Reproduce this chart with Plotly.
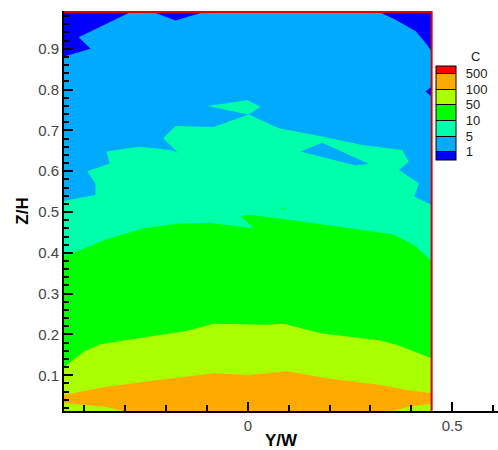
import plotly.graph_objects as go

# ---------------- data ----------------
# contour levels of C and their band colours (band k lies between levels[k-1] and levels[k])
levels = [1, 5, 10, 50, 100, 500]
level_labels = ["1", "5", "10", "50", "100", "500"]
band_colors = ["#0000FF", "#00AAFF", "#00FFAA", "#00FF00", "#AAFF00", "#FFAA00", "#FF0000"]

# measured domain (Y/W, Z/H)
y_lo, y_hi = -0.45, 0.45
z_lo, z_hi = 0.0125, 0.99

# C = 1 isolines (regions with C < 1)
iso1_tl_y = [-0.45, -0.45, -0.385, -0.414, -0.287]
iso1_tl_z = [0.99, 0.881, 0.900, 0.928, 0.99]
iso1_tc_y = [-0.232, -0.177, -0.108]
iso1_tc_z = [0.99, 0.969, 0.99]
iso1_tr_y = [0.321, 0.362, 0.411, 0.439, 0.45, 0.45]
iso1_tr_z = [0.99, 0.971, 0.943, 0.910, 0.894, 0.99]
iso1_rs_y = [0.45, 0.435, 0.45]
iso1_rs_z = [0.807, 0.795, 0.783]

# C = 5 isoline (top of the 5-10 band), left to right
iso5_y = [-0.45, -0.373, -0.373, -0.393, -0.338, -0.346, -0.267, -0.189, -0.171,
          -0.207, -0.177, -0.083, 0.002, 0.076, 0.182, 0.280, 0.378, 0.394,
          0.370, 0.419, 0.407, 0.45]
iso5_z = [0.527, 0.542, 0.570, 0.600, 0.619, 0.648, 0.660, 0.652, 0.645,
          0.681, 0.711, 0.708, 0.739, 0.705, 0.685, 0.664, 0.652, 0.623,
          0.603, 0.570, 0.538, 0.517]
# island with C > 5 and island with C < 5
iso5_isl_y = [-0.099, -0.001, 0.031, 0.002]
iso5_isl_z = [0.760, 0.774, 0.758, 0.739]
iso5_hole_y = [0.129, 0.182, 0.296, 0.264]
iso5_hole_z = [0.648, 0.670, 0.618, 0.614]

# C = 10 isoline (top of the 10-50 band)
iso10_y = [-0.45, -0.41, -0.344, -0.254, -0.173, -0.091, 0.015, -0.018, 0.007,
           0.064, 0.194, 0.357, 0.407, 0.45]
iso10_z = [0.392, 0.407, 0.434, 0.460, 0.471, 0.473, 0.460, 0.490, 0.493,
           0.486, 0.468, 0.445, 0.419, 0.380]
iso10_dot_y = [0.082, 0.092, 0.088]
iso10_dot_z = [0.509, 0.511, 0.505]

# C = 50 isoline (top of the 50-100 band)
iso50_y = [-0.45, -0.426, -0.401, -0.361, -0.214, -0.148, -0.083, 0.047, 0.088,
           0.178, 0.325, 0.366, 0.407, 0.45]
iso50_z = [0.120, 0.138, 0.158, 0.176, 0.199, 0.209, 0.226, 0.224, 0.226,
           0.203, 0.185, 0.174, 0.158, 0.142]

# C = 100 isolines (top and bottom of the 100-500 band)
iso100_top_y = [-0.45, -0.352, -0.214, -0.083, -0.001, 0.096, 0.194, 0.325, 0.390, 0.45]
iso100_top_z = [0.052, 0.071, 0.089, 0.105, 0.101, 0.110, 0.093, 0.076, 0.064, 0.056]
iso100_bot_y = [0.45, 0.390, 0.357, -0.303, -0.352, -0.45]
iso100_bot_z = [0.030, 0.022, 0.0125, 0.0125, 0.023, 0.032]

# ---------------- figure ----------------
FONT = "Liberation Sans, Arial, Helvetica, sans-serif"
fig = go.Figure()


def band(xs, zs, k):
    fig.add_trace(go.Scatter(
        x=xs, y=zs, mode="lines", fill="toself", fillcolor=band_colors[k],
        line=dict(width=0, color=band_colors[k]), hoverinfo="skip", showlegend=False))


# 1-5 everywhere first
band([y_lo, y_hi, y_hi, y_lo, y_lo], [z_lo, z_lo, z_hi, z_hi, z_lo], 1)
# < 1
band(iso1_tl_y, iso1_tl_z, 0)
band(iso1_tc_y, iso1_tc_z, 0)
band(iso1_tr_y, iso1_tr_z, 0)
band(iso1_rs_y, iso1_rs_z, 0)
# 5-10 below the C=5 line
band(iso5_y + [y_hi, y_lo], iso5_z + [z_lo, z_lo], 2)
band(iso5_isl_y, iso5_isl_z, 2)
band(iso5_hole_y, iso5_hole_z, 1)
# 10-50
band(iso10_y + [y_hi, y_lo], iso10_z + [z_lo, z_lo], 3)
band(iso10_dot_y, iso10_dot_z, 3)
# 50-100
band(iso50_y + [y_hi, y_lo], iso50_z + [z_lo, z_lo], 4)
# 100-500
band(iso100_top_y + iso100_bot_y, iso100_top_z + iso100_bot_z, 5)

# red border of the measured domain (top and right)
fig.add_trace(go.Scatter(
    x=[y_lo, y_hi, y_hi], y=[z_hi, z_hi, z_lo], mode="lines",
    line=dict(color="#E00000", width=2), hoverinfo="skip", showlegend=False))

# colour key
n = len(band_colors)
cmin, cmax = 0.5, len(levels) + 0.5
span = cmax - cmin
cs = []
edges = [cmin] + [i + 1 for i in range(len(levels))] + [cmax]
for k in range(n):
    a = (edges[k] - cmin) / span
    b = (edges[k + 1] - cmin) / span
    cs.append([a, band_colors[k]])
    cs.append([b, band_colors[k]])

fig.add_trace(go.Scatter(
    x=[None], y=[None], mode="markers", hoverinfo="skip", showlegend=False,
    marker=dict(
        color=[1], cmin=cmin, cmax=cmax, colorscale=cs, showscale=True,
        colorbar=dict(
            tickvals=list(range(1, len(levels) + 1)),
            ticktext=["\u00a0\u2009" + t for t in level_labels],
            ticks="inside", ticklen=20, tickwidth=1, tickcolor="black",
            thickness=20, len=94, lenmode="pixels",
            x=0.857, xanchor="left", y=0.746, yanchor="middle",
            xpad=0, ypad=0, outlinecolor="black", outlinewidth=1,
            tickfont=dict(family=FONT, size=13, color="#222"),
        ),
    ),
))

fig.add_annotation(text="C", x=0.949, y=0.886, xref="paper", yref="paper",
                   xanchor="center", yanchor="middle",
                   showarrow=False, font=dict(family=FONT, size=13, color="#222"))

fig.update_layout(
    width=498, height=450,
    margin=dict(l=64, r=0, t=11, b=39, autoexpand=False),
    paper_bgcolor="white", plot_bgcolor="white",
    font=dict(family=FONT, size=15, color="#444"),
    xaxis=dict(
        range=[-0.45, 0.6125], showgrid=False, zeroline=False,
        showline=True, linecolor="black", linewidth=2,
        dtick=0.5, tick0=0, ticks="inside", ticklen=9, tickwidth=2, tickcolor="black",
        minor=dict(dtick=0.1, ticks="inside", ticklen=6, tickwidth=1.5, tickcolor="black"),
        tickfont=dict(family=FONT, size=15, color="#444"),
        title=dict(text="<b>Y/W</b>", font=dict(family=FONT, size=17, color="black"), standoff=4),
    ),
    yaxis=dict(
        range=[0.0125, 0.9925], showgrid=False, zeroline=False,
        showline=True, linecolor="black", linewidth=2,
        dtick=0.1, tick0=0, ticks="inside", ticklen=9, tickwidth=2, tickcolor="black",
        minor=dict(dtick=0.02, ticks="inside", ticklen=5, tickwidth=1.5, tickcolor="black"),
        tickfont=dict(family=FONT, size=15, color="#444"),
        title=dict(text="<b>Z/H</b>", font=dict(family=FONT, size=17, color="black"), standoff=5),
    ),
)

fig.write_html(
    "out.html",
    config={"displayModeBar": False},
    post_script="document.body.style.margin='0';document.body.style.overflow='hidden';",
)
